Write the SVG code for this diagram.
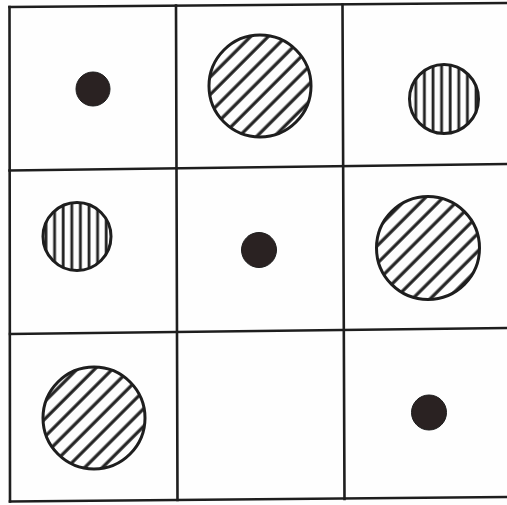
<svg xmlns="http://www.w3.org/2000/svg" width="507" height="505" viewBox="0 0 507 505">
<defs>
<pattern id="diag" patternUnits="userSpaceOnUse" width="12.5" height="12.5" patternTransform="rotate(45)">
<line x1="3" y1="0" x2="3" y2="12.5" stroke="#222" stroke-width="3.2"/>
</pattern>
<pattern id="vert" patternUnits="userSpaceOnUse" width="8.6" height="8.6">
<line x1="3" y1="0" x2="3" y2="8.6" stroke="#222" stroke-width="2.8"/>
</pattern>
<style>
.grid line{stroke:#1e1e1e;stroke-width:2.6;stroke-linecap:square}
.ring{stroke:#1e1e1e;stroke-width:3}
.dot{fill:#2a2222;stroke:#1e1e1e;stroke-width:1}
</style>
</defs>
<rect width="507" height="505" fill="#fefefe"/>
<g id="grid" class="grid">
<line x1="9.5" y1="7" x2="507" y2="3"/>
<line x1="9.5" y1="170.5" x2="507" y2="164"/>
<line x1="10" y1="334" x2="507" y2="328"/>
<line x1="10" y1="501.5" x2="507" y2="497"/>
<line x1="9.5" y1="7" x2="10" y2="501.5"/>
<line x1="176" y1="5.5" x2="177.5" y2="500"/>
<line x1="342.5" y1="4.5" x2="344.5" y2="499"/>
</g>
<g id="r1c1"><circle class="dot" cx="93" cy="89" r="17"/></g>
<g id="r1c2"><circle class="ring" cx="260" cy="86" r="51" fill="url(#diag)"/></g>
<g id="r1c3"><circle class="ring" cx="444" cy="99" r="34.5" fill="url(#vert)"/></g>
<g id="r2c1"><circle class="ring" cx="77" cy="236.5" r="34" fill="url(#vert)"/></g>
<g id="r2c2"><circle class="dot" cx="259" cy="250" r="17.5"/></g>
<g id="r2c3"><circle class="ring" cx="428" cy="248" r="51.5" fill="url(#diag)"/></g>
<g id="r3c1"><circle class="ring" cx="94" cy="418" r="51" fill="url(#diag)"/></g>
<g id="r3c2"></g>
<g id="r3c3"><circle class="dot" cx="429" cy="412.5" r="17.5"/></g>
</svg>
